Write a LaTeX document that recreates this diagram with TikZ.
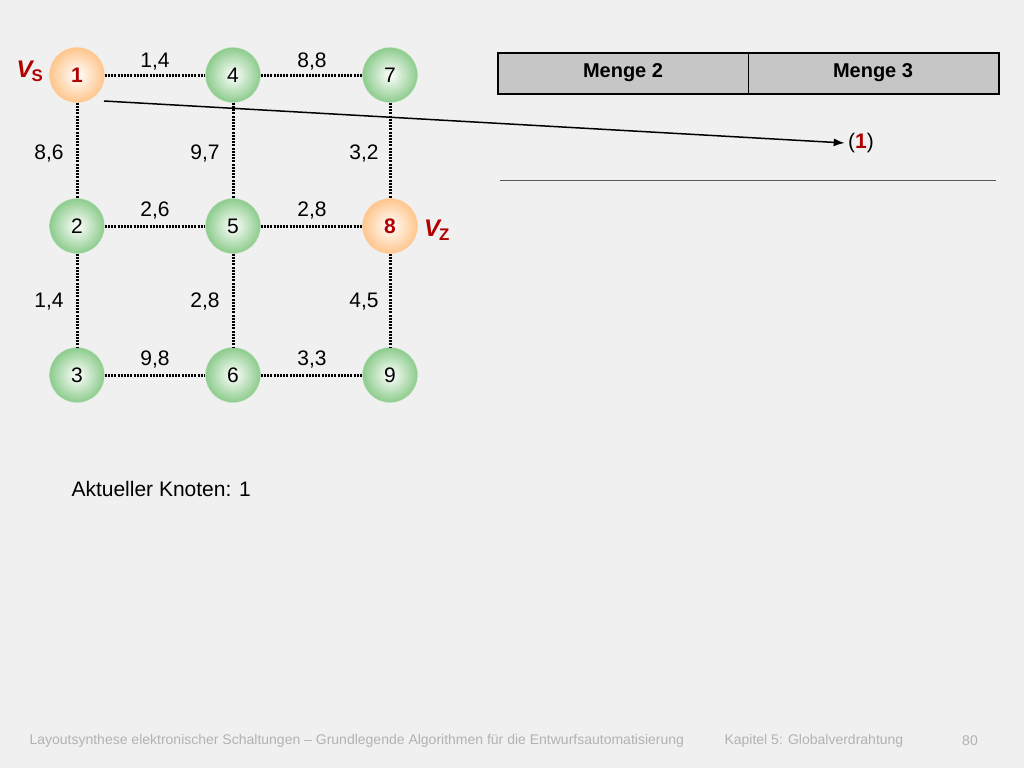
\documentclass[tikz,border=0pt]{standalone}
\usepackage{fontspec}
\usetikzlibrary{arrows.meta}
\setmainfont{Liberation Sans}
\begin{document}
\begin{tikzpicture}[x=1pt,y=-1pt,
 gn/.style={circle,minimum size=55pt,inner sep=0pt,draw=green!35!gray!40,inner color=white,outer color=green!55!black!45!white,font=\fontsize{21}{21}\selectfont},
 on/.style={circle,minimum size=55pt,inner sep=0pt,draw=orange!40,inner color=white,outer color=orange!45,font=\fontsize{21}{21}\selectfont\bfseries,text=red!70!black},
 ed/.style={dash pattern=on 2pt off 1.2pt,line width=3pt},
 lb/.style={font=\fontsize{21}{21}\selectfont}]
\fill[gray!12] (0,0) rectangle (1024,768);
\useasboundingbox (0,0) rectangle (1024,768);
\node[on] (n1) at (77,75) {1};
\node[gn] (n4) at (233,75) {4};
\node[gn] (n7) at (390,75) {7};
\node[gn] (n2) at (77,226) {2};
\node[gn] (n5) at (233,226) {5};
\node[on] (n8) at (390,226) {8};
\node[gn] (n3) at (77,375) {3};
\node[gn] (n6) at (233,375) {6};
\node[gn] (n9) at (390,375) {9};
\draw[ed] (n1)--(n4); \draw[ed] (n4)--(n7);
\draw[ed] (n2)--(n5); \draw[ed] (n5)--(n8);
\draw[ed] (n3)--(n6); \draw[ed] (n6)--(n9);
\draw[ed] (n1)--(n2); \draw[ed] (n2)--(n3);
\draw[ed] (n4)--(n5); \draw[ed] (n5)--(n6);
\draw[ed] (n7)--(n8); \draw[ed] (n8)--(n9);
\node[lb] (l1) at (155,62) {1,4}; \node[lb] (l2) at (312,62) {8,8};
\node[lb] (l3) at (155,211) {2,6}; \node[lb] (l4) at (312,211) {2,8};
\node[lb] (l5) at (155,360) {9,8}; \node[lb] (l6) at (312,360) {3,3};
\node[lb] (l7) at (49,154) {8,6}; \node[lb] (l8) at (205,154) {9,7}; \node[lb] (l9) at (364,154) {3,2};
\node[lb] (l10) at (49,302) {1,4}; \node[lb] (l11) at (205,302) {2,8}; \node[lb] (l12) at (364,302) {4,5};
\node[text=red!70!black,font=\fontsize{24}{24}\selectfont\bfseries\itshape] (vs) at (30,71) {V\kern-1pt\textsubscript{\upshape S}};
\node[text=red!70!black,font=\fontsize{24}{24}\selectfont\bfseries\itshape] (vz) at (437,230) {V\kern-1pt\textsubscript{\upshape Z}};
\draw[fill=gray!45,line width=1.5pt] (498,53) rectangle (999,94);
\draw[line width=1pt] (748,53)--(748,94);
\node[font=\fontsize{20}{20}\selectfont\bfseries] (m2) at (623,73) {Menge 2};
\node[font=\fontsize{20}{20}\selectfont\bfseries] (m3) at (873,73) {Menge 3};
\node[lb] (e1) at (861,143) {(\textcolor{red!70!black}{\bfseries 1})};
\coordinate (s) at (104,101);
\draw[-{Latex[length=11pt,width=8pt]},line width=1.5pt] (s)--(e1.west);
\draw[gray!70!black,line width=1pt] (500,180)--(996,180);
\node[font=\fontsize{21}{21}\selectfont,anchor=west] (ak) at (68,489) {Aktueller Knoten: 1};
\node[font=\fontsize{14}{14}\selectfont,text=gray!60,anchor=west] (f1) at (26,741) {Layoutsynthese elektronischer Schaltungen -- Grundlegende Algorithmen für die Entwurfsautomatisierung};
\node[font=\fontsize{14}{14}\selectfont,text=gray!60,anchor=west] (f2) at (721,741) {Kapitel 5: Globalverdrahtung};
\node[font=\fontsize{14}{14}\selectfont,text=gray!60] (f3) at (970,741) {80};
\end{tikzpicture}
\end{document}
